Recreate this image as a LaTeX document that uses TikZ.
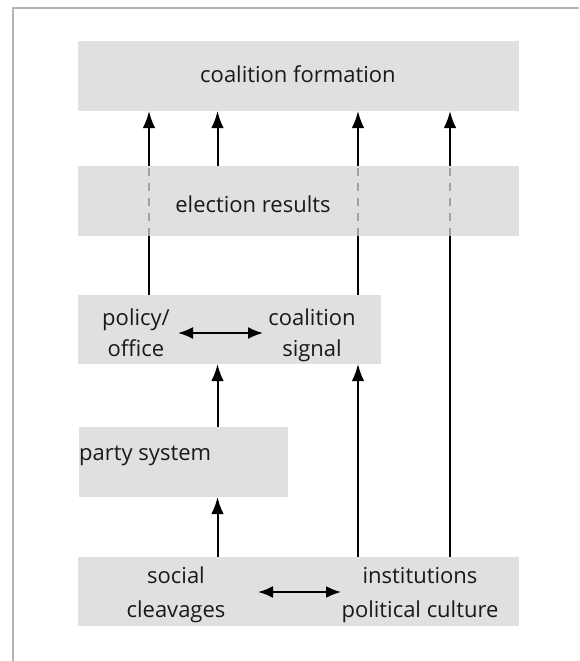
\documentclass[tikz,border=0pt]{standalone}
\usepackage{fontspec}
\setmainfont{Open Sans}
\usetikzlibrary{arrows.meta}
\definecolor{boxgray}{RGB}{224,224,224}
\definecolor{framegray}{RGB}{180,180,180}
\definecolor{dashgray}{RGB}{160,160,160}
\definecolor{txt}{RGB}{25,25,25}
\begin{document}
\begin{tikzpicture}[x=1pt,y=-1pt,
  box/.style={fill=boxgray, draw=none, anchor=north west, inner sep=0pt, outer sep=0pt},
  lbl/.style={anchor=base, inner sep=0pt, font=\fontsize{22}{26}\selectfont, text=txt},
  arr/.style={-{Latex[length=17pt,width=12.5pt]}, line width=2pt},
  dbl/.style={{Latex[length=15pt,width=12pt]}-{Latex[length=15pt,width=12pt]}, line width=2pt},
  dsh/.style={dashgray, line width=2pt, dash pattern=on 8pt off 7pt}]
\useasboundingbox (0,0) rectangle (579,661);
% frame
\draw[framegray, line width=1.7pt] (12.8,661) -- (12.8,8) -- (579,8);
% boxes
\node[box, minimum width=441pt, minimum height=70pt] (coal) at (78,41) {};
\node[box, minimum width=303pt, minimum height=69pt] (pol) at (78,295) {};
\node[box, minimum width=209pt, minimum height=70pt] (party) at (79,427) {};
\node[box, minimum width=441pt, minimum height=69pt] (base) at (78,557) {};
% arrow columns
\coordinate (x1) at (149,0);
\coordinate (x2) at (217.5,0);
\coordinate (x3) at (358,0);
\coordinate (x4) at (450,0);
% long arrows (passing under election results box)
\draw[arr] (pol.north -| x1) -- (coal.south -| x1);
\draw[arr] (pol.north -| x3) -- (coal.south -| x3);
\draw[arr] (base.north -| x4) -- (coal.south -| x4);
% election results box on top
\node[box, minimum width=441pt, minimum height=70pt] (elec) at (78,166) {};
\draw[dsh] (elec.south -| x1) -- (elec.north -| x1);
\draw[dsh] (elec.south -| x3) -- (elec.north -| x3);
\draw[dsh] (elec.south -| x4) -- (elec.north -| x4);
\draw[arr] (elec.north -| x2) -- (coal.south -| x2);
% lower arrows
\draw[arr] (party.north -| x2) -- (pol.south -| x2);
\draw[arr] (base.north -| x3) -- (pol.south -| x3);
\draw[arr] (base.north -| x2) -- (party.south -| x2);
% texts
\node[lbl] (tcoal) at (298,82) {coalition formation};
\node[lbl] (telec) at (253,212) {election results};
\node[lbl] (tpol1) at (136,325) {policy/};
\node[lbl] (tpol2) at (136,356) {office};
\node[lbl] (tsig1) at (312,325) {coalition};
\node[lbl] (tsig2) at (312,356) {signal};
\node[lbl, anchor=base west] (tparty) at (79,460) {party system};
\node[lbl] (tsoc1) at (176,583) {social};
\node[lbl] (tsoc2) at (176,617) {cleavages};
\node[lbl] (tins1) at (420,583) {institutions};
\node[lbl] (tins2) at (420,617) {political culture};
% double arrows
\coordinate (pa) at (178,333);
\coordinate (pb) at (263,333);
\draw[dbl] (pa) -- (pb);
\coordinate (ba) at (258,592);
\coordinate (bb) at (341,592);
\draw[dbl] (ba) -- (bb);
\end{tikzpicture}
\end{document}
